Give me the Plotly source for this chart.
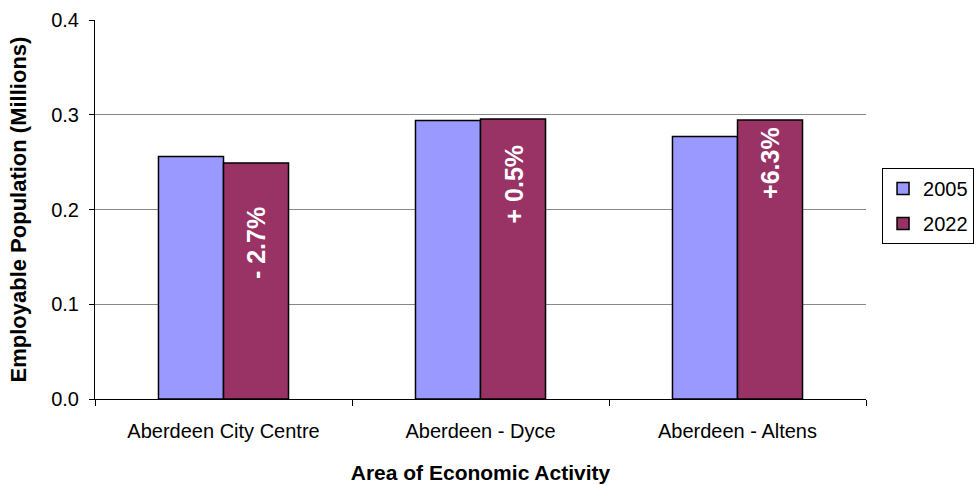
import plotly.graph_objects as go

# Employable population by area, millions
areas = ["Aberdeen City Centre", "Aberdeen - Dyce", "Aberdeen - Altens"]
pop_2005 = [0.256, 0.294, 0.277]
pop_2022 = [0.249, 0.2955, 0.2945]
change_labels = ["- 2.7%", "+ 0.5%", "+6.3%"]
y_ticks = [0.0, 0.1, 0.2, 0.3, 0.4]

FONT = "Liberation Sans, Arial, sans-serif"
BAR_GAP = 0.494
label_shift = [-42, -24, -5]  # pixel offset of each change label below its bar top

fig = go.Figure()
fig.add_trace(go.Bar(
    name="2005", x=areas, y=pop_2005, legendgroup="a",
    marker=dict(color="#9999FF", line=dict(color="#000000", width=1.5)),
))
fig.add_trace(go.Bar(
    name="2022", x=areas, y=pop_2022, legendgroup="b",
    marker=dict(color="#993366", line=dict(color="#000000", width=1.5)),
))

# Percentage-change labels inside the 2022 bars
offset = (1 - BAR_GAP) / 4
for i, (val, txt) in enumerate(zip(pop_2022, change_labels)):
    fig.add_annotation(
        x=i + offset, y=val, xref="x", yref="y",
        text=txt, textangle=-90, showarrow=False,
        xanchor="center", yanchor="top", yshift=label_shift[i],
        font=dict(family=FONT, size=25, color="white", weight="bold"),
    )

# Vertical axis title, placed in the left margin
fig.add_annotation(
    x=0, y=0.5, xref="paper", yref="paper",
    text="Employable Population (Millions)", textangle=-90, showarrow=False,
    xanchor="center", yanchor="middle", xshift=-77,
    font=dict(family=FONT, size=22, weight="bold", color="#000000"),
)

fig.update_layout(
    width=976, height=485,
    margin=dict(l=95, r=110, t=20, b=86, pad=0, autoexpand=False),
    paper_bgcolor="white", plot_bgcolor="white",
    barmode="group", bargap=BAR_GAP, bargroupgap=0,
    font=dict(family=FONT, size=20, color="#000000"),
    showlegend=True,
    legend=dict(
        x=1.0208, y=0.6095, xanchor="left", yanchor="top",
        bordercolor="#000000", borderwidth=1, bgcolor="white",
        traceorder="grouped", tracegroupgap=6,
        font=dict(family=FONT, size=20, color="#000000"),
    ),
    xaxis=dict(
        type="category",
        showline=True, linecolor="#000000", linewidth=1,
        ticks="outside", tickson="boundaries", ticklen=6, tickcolor="#000000",
        ticklabelstandoff=14,
        showgrid=False,
        tickfont=dict(family=FONT, size=20),
        title=dict(text="Area of Economic Activity", standoff=24,
                   font=dict(family=FONT, size=21, weight="bold")),
    ),
    yaxis=dict(
        range=[0, 0.4], tickvals=y_ticks, tickformat=".1f",
        showline=True, linecolor="#000000", linewidth=1,
        ticks="outside", ticklen=5, tickcolor="#000000",
        ticklabelstandoff=6,
        showgrid=True, gridcolor="#888888", gridwidth=1,
        zeroline=False,
        tickfont=dict(family=FONT, size=20),
    ),
)

fig.write_html("out.html")
